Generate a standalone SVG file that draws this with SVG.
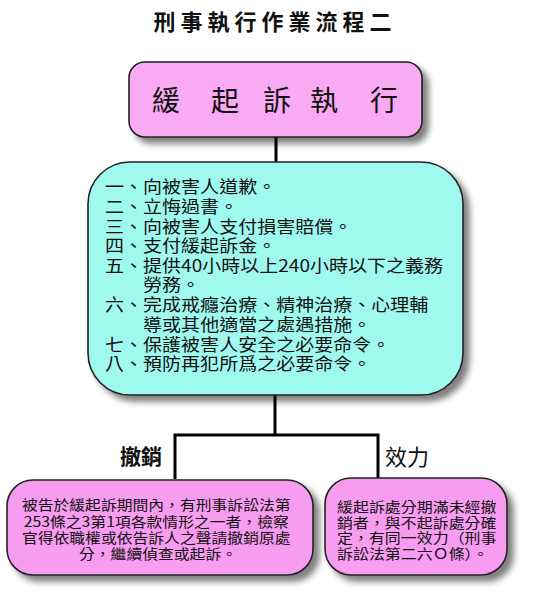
<svg xmlns="http://www.w3.org/2000/svg" width="550" height="600" viewBox="0 0 550 600">
<defs>
<filter id="sh" x="-10%" y="-10%" width="130%" height="140%">
<feGaussianBlur in="SourceAlpha" stdDeviation="3"/>
<feOffset dx="6" dy="6" result="b"/>
<feFlood flood-color="#000" flood-opacity="0.5"/>
<feComposite in2="b" operator="in"/>
<feMerge><feMergeNode/><feMergeNode in="SourceGraphic"/></feMerge>
</filter>
</defs>
<style>
.box{stroke:#222;stroke-width:1.6;filter:url(#sh)}
.t{font-family:"Noto Sans CJK TC","Noto Sans CJK SC",sans-serif;fill:#111}
.ln{stroke:#000;stroke-width:3;fill:none}
</style>
<rect width="550" height="600" fill="#fff"/>
<text class="t" x="275" y="30" text-anchor="middle" font-size="22" font-weight="bold" letter-spacing="5">刑事執行作業流程二</text>
<g id="connectors">
<line class="ln" x1="276" y1="137" x2="276" y2="164"/>
<polyline class="ln" points="275,395 275,435"/>
<polyline class="ln" points="175,479 175,435 378,435 378,479"/>
</g>
<g id="top">
<rect class="box" x="129" y="62" width="293" height="75" rx="16" fill="#f8aaf2"/>
<text class="t" y="111" font-size="28"><tspan x="152">緩</tspan><tspan x="211">起</tspan><tspan x="263">訴</tspan><tspan x="310">執</tspan><tspan x="370">行</tspan></text>
</g>
<g id="conditions">
<rect class="box" x="88" y="162" width="375" height="233" rx="42" fill="#a0f9ef"/>
<g transform="translate(105 0) scale(1.12 1)">
<text class="t" font-size="17">
<tspan x="0" y="193">一、向被害人道歉。</tspan>
<tspan x="0" y="213">二、立悔過書。</tspan>
<tspan x="0" y="233">三、向被害人支付損害賠償。</tspan>
<tspan x="0" y="252">四、支付緩起訴金。</tspan>
<tspan x="0" y="272">五、提供40小時以上240小時以下之義務</tspan>
<tspan x="34" y="291">勞務。</tspan>
<tspan x="0" y="311">六、完成戒癮治療、精神治療、心理輔</tspan>
<tspan x="34" y="331">導或其他適當之處遇措施。</tspan>
<tspan x="0" y="351">七、保護被害人安全之必要命令。</tspan>
<tspan x="0" y="370">八、預防再犯所爲之必要命令。</tspan>
</text>
</g>
</g>
<g id="label-revoke">
<text class="t" x="120" y="464" font-size="21" font-weight="bold">撤銷</text>
</g>
<g id="label-effect">
<text class="t" x="385" y="465" font-size="22">效力</text>
</g>
<g id="revoke">
<rect class="box" x="7" y="480" width="306" height="95" rx="26" fill="#f79cf0"/>
<g transform="translate(158 0) scale(1.13 1)">
<text class="t" font-size="14" text-anchor="middle">
<tspan x="0" y="510">被告於緩起訴期間內，有刑事訴訟法第</tspan>
<tspan x="0" y="527">253條之3第1項各款情形之一者，檢察</tspan>
<tspan x="0" y="543">官得依職權或依告訴人之聲請撤銷原處</tspan>
<tspan x="0" y="559">分，繼續偵查或起訴。</tspan>
</text>
</g>
</g>
<g id="effect">
<rect class="box" x="325" y="478" width="182" height="97" rx="26" fill="#f79cf0"/>
<g transform="translate(337 0) scale(1.14 1)">
<text class="t" font-size="14">
<tspan x="0" y="512">緩起訴處分期滿未經撤</tspan>
<tspan x="0" y="528">銷者，與不起訴處分確</tspan>
<tspan x="0" y="543">定，有同一效力（刑事</tspan>
<tspan x="0" y="559">訴訟法第二六Ｏ條）。</tspan>
</text>
</g>
</g>
</svg>
